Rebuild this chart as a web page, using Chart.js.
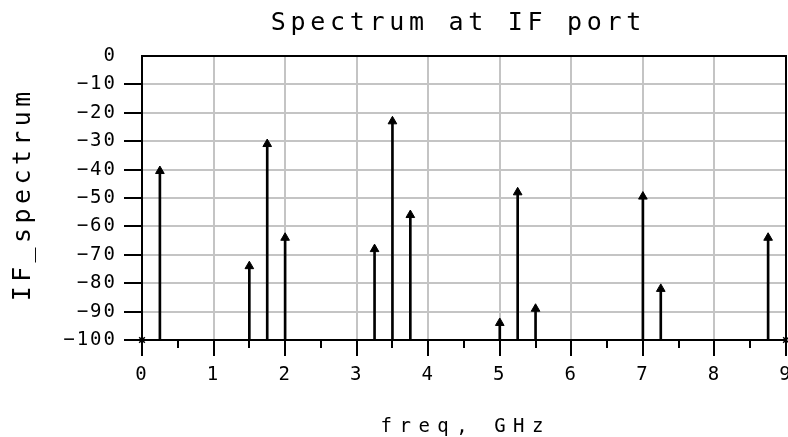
<!DOCTYPE html>
<html>
<head>
<meta charset="utf-8">
<script src="https://cdn.jsdelivr.net/npm/chart.js@4.4.0/dist/chart.umd.min.js"></script>
<style>
  body { margin: 0; background: #fff; overflow: hidden; }
  #wrap { width: 788px; height: 437px; position: relative; }
</style>
</head>
<body>
<div id="wrap"><canvas id="chart"></canvas></div>
<script>
// spectrum lines (GHz, dB)
const freqs  = [0.25, 1.5, 1.75, 2.0, 3.25, 3.5, 3.75, 5.0, 5.25, 5.5, 7.0, 7.25, 8.75];
const levels = [-40.5, -74, -31, -64, -68, -23, -56, -94, -48, -89, -49.5, -82, -64];

// points sitting on the floor (drawn as small crosses)
const floorFreqs  = [0, 9];
const floorLevels = [-100, -100];

const xTicks = [0, 1, 2, 3, 4, 5, 6, 7, 8, 9];
const yTicks = [0, -10, -20, -30, -40, -50, -60, -70, -80, -90, -100];

const titleText = 'Spectrum at IF port';
const xTitle = 'freq, GHz';
const yTitle = 'IF_spectrum';

const MONO = '"DejaVu Sans Mono", "Liberation Mono", monospace';

const framePlugin = {
    id: 'frame',
    beforeDraw(chart) {
        chart.ctx.letterSpacing = '2px';
    },
    afterDraw(chart) {
        const ctx = chart.ctx;
        const a = chart.chartArea;
        const xs = chart.scales.x;
        ctx.save();
        ctx.strokeStyle = '#000';
        ctx.lineWidth = 2;
        // top and right border
        ctx.beginPath();
        ctx.moveTo(a.left - 1, a.top);
        ctx.lineTo(a.right, a.top);
        ctx.lineTo(a.right, a.bottom);
        ctx.stroke();
        // minor ticks at half GHz
        ctx.beginPath();
        for (let v = 0.5; v < 9; v += 1) {
            const px = Math.round(xs.getPixelForValue(v));
            ctx.moveTo(px, a.bottom);
            ctx.lineTo(px, a.bottom + 8);
        }
        ctx.stroke();

        ctx.fillStyle = '#000';
        ctx.textBaseline = 'alphabetic';
        ctx.textAlign = 'center';

        // main title
        ctx.font = '25px ' + MONO;
        ctx.letterSpacing = '4.7px';
        ctx.fillText(titleText, 456 + 2.35, 29.5);

        // x title
        ctx.font = '19px ' + MONO;
        ctx.letterSpacing = '7.5px';
        ctx.fillText(xTitle, 462 + 3.75, 431.5);

        // y title
        ctx.font = '25px ' + MONO;
        ctx.letterSpacing = '4.4px';
        ctx.translate(30, 196.5);
        ctx.rotate(-Math.PI / 2);
        ctx.fillText(yTitle, 2.2, 0);
        ctx.restore();
    }
};

new Chart(document.getElementById('chart'), {
    type: 'bar',
    data: {
        datasets: [
            {
                type: 'bar',
                data: freqs.map((f, i) => ({ x: f, y: [-100, levels[i]] })),
                backgroundColor: '#000',
                borderWidth: 0,
                barThickness: 2,
                grouped: false
            },
            {
                type: 'scatter',
                data: freqs.map((f, i) => ({ x: f, y: levels[i] })),
                pointStyle: 'triangle',
                radius: 5,
                backgroundColor: '#000',
                borderColor: '#000',
                borderWidth: 1
            },
            {
                type: 'scatter',
                data: floorFreqs.map((f, i) => ({ x: f, y: floorLevels[i] })),
                pointStyle: 'crossRot',
                radius: 4,
                borderColor: '#000',
                borderWidth: 1.5,
                clip: false
            }
        ]
    },
    options: {
        responsive: true,
        maintainAspectRatio: false,
        animation: false,
        layout: { autoPadding: false, padding: { top: 56, right: 2, left: 0, bottom: 0 } },
        plugins: {
            legend: { display: false },
            tooltip: { enabled: false }
        },
        scales: {
            x: {
                type: 'linear',
                min: 0,
                max: 9,
                offset: false,
                afterFit: s => { s.height = 97; s.paddingLeft = 0; s.paddingRight = 0; },
                afterBuildTicks: s => { s.ticks = xTicks.map(v => ({ value: v })); },
                ticks: {
                    color: '#000',
                    font: { family: MONO, size: 19 },
                    padding: 8,
                    maxRotation: 0
                },
                grid: {
                    color: '#c4c4c4',
                    lineWidth: 2,
                    offset: false,
                    tickLength: 16,
                    tickColor: '#000',
                    tickWidth: 2
                },
                border: { color: '#000', width: 2 }
            },
            y: {
                min: -100,
                max: 0,
                afterFit: s => { s.width = 142; s.paddingTop = 0; s.paddingBottom = 0; },
                afterBuildTicks: s => { s.ticks = yTicks.map(v => ({ value: v })); },
                ticks: {
                    color: '#000',
                    font: { family: MONO, size: 19 },
                    padding: 7,
                    callback: v => (v < 0 ? '\u2212' + Math.abs(v) : String(v))
                },
                grid: {
                    color: '#c4c4c4',
                    lineWidth: 2,
                    tickLength: 18,
                    tickColor: c => (c.tick && c.tick.value === 0 ? 'rgba(0,0,0,0)' : '#000'),
                    tickWidth: 2
                },
                border: { color: '#000', width: 2 }
            }
        }
    },
    plugins: [framePlugin]
});
</script>
</body>
</html>
